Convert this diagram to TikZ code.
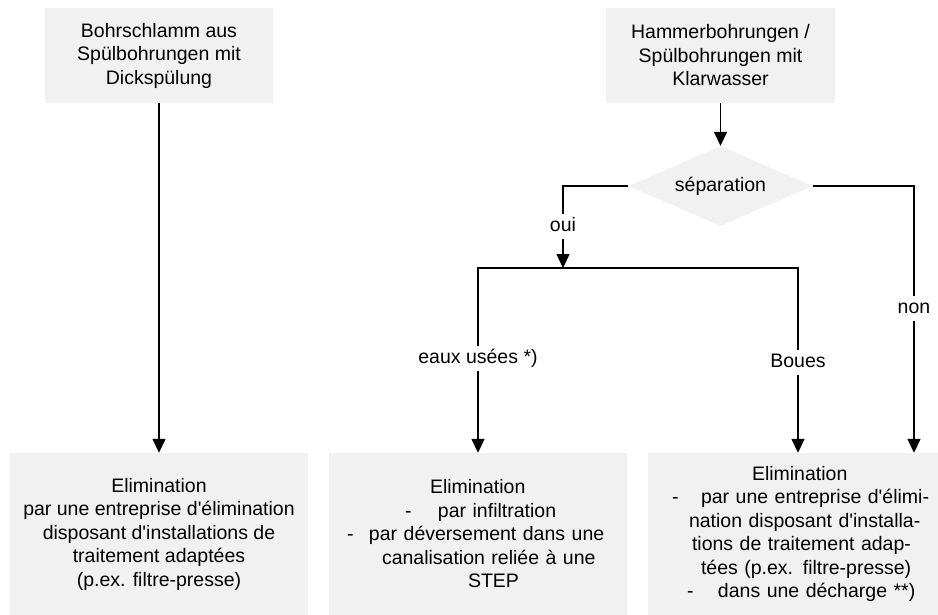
\documentclass[tikz,border=0pt]{standalone}
\usepackage{fontspec}
\setmainfont{Liberation Sans}
\usetikzlibrary{shapes.geometric,arrows.meta}
\definecolor{boxgray}{RGB}{241,241,241}
\newcommand\diagfont{\fontsize{19.5pt}{23.5pt}\selectfont}
\newcommand\aq{\textquotesingle}
\newcommand\atx[2]{\makebox[0pt][l]{\hspace*{#1}#2}}
\begin{document}
\begin{tikzpicture}[x=1pt,y=-1pt,
  box/.style={fill=boxgray, inner sep=0pt, font=\diagfont},
  dia/.style={diamond, fill=boxgray, inner sep=0pt, aspect=2.3,
              minimum width=184pt, minimum height=80pt, font=\diagfont},
  ln/.style={line width=1.5pt},
  arr/.style={ln, -{Triangle[width=13pt,length=14pt]}},
  lbl/.style={fill=white, inner sep=3.5pt, text height=14pt, text depth=4pt, font=\diagfont}]
\useasboundingbox (0,0) rectangle (938,615);

% top boxes
\node[box, minimum width=228pt, minimum height=95pt, align=center] (b1) at (159,55.5)
  {Bohrschlamm aus\\Spülbohrungen mit\\Dickspülung};
\node[box, minimum width=229pt, minimum height=95pt, align=center] (b2) at (720.5,55.5)
  {Hammerbohrungen /\\Spülbohrungen mit\\Klarwasser};

% decision
\node[dia] (d) at (720.5,186) {séparation};

% bottom boxes
\node[box, minimum width=298pt, minimum height=162pt, align=center] (bA) at (159,534)
  {Elimination\\par une entreprise d\aq élimination\\disposant d\aq installations de\\traitement adaptées\\(p.ex. filtre-presse)};
\node[box, minimum width=298pt, minimum height=162pt, text width=298pt, align=left] (bB) at (478,534)
  {\atx{101pt}{Elimination}\\
   \atx{76pt}{-}\atx{109pt}{par infiltration}\\
   \atx{18pt}{-}\atx{40pt}{par déversement dans une}\\
   \atx{53pt}{canalisation reliée à une}\\
   \atx{139pt}{STEP}};
\node[box, minimum width=290pt, minimum height=162pt, text width=290pt, align=left] (bC) at (793,534)
  {\atx{104pt}{Elimination}\\
   \atx{24pt}{-}\atx{53pt}{par une entreprise d\aq élimi-}\\
   \atx{41pt}{nation disposant d\aq installa-}\\
   \atx{44pt}{tions de traitement adap-}\\
   \atx{53pt}{tées (p.ex. filtre-presse)}\\
   \atx{39pt}{-}\atx{70pt}{dans une décharge **)}};

% junction coordinates
\coordinate (j) at (563,268);
\coordinate (jl) at (478,268);
\coordinate (jr) at (798,268);
\coordinate (nonx) at (914,0);

% connectors
\draw[arr] (b1.south) -- (b1.south |- bA.north);
\draw[arr] (b2.south) -- (d.north);
\draw[arr] (d.west) -| node[lbl, pos=0.75] {oui} (j);
\draw[ln, line cap=rect] (jl) -- (jr);
\draw[arr] (jl) -- node[lbl, pos=0.49] {eaux usées *)} (jl |- bB.north);
\draw[arr] (jr) -- node[lbl, pos=0.51] {Boues} (jr |- bC.north);
\draw[arr] (d.east) -| node[lbl, pos=0.73] {non} (nonx |- bC.north);
\end{tikzpicture}
\end{document}
